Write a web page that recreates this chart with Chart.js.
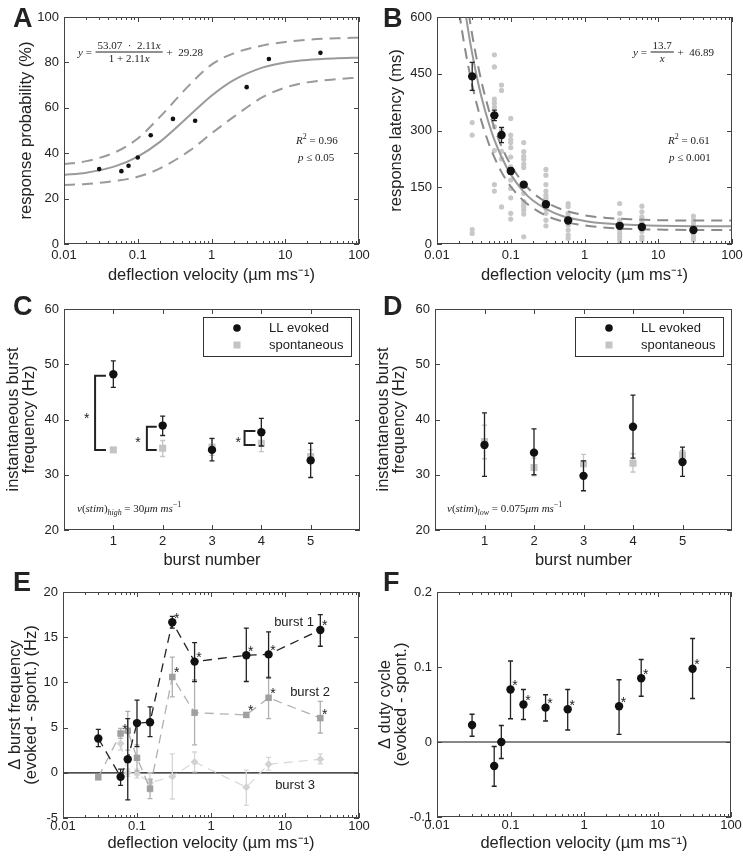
<!DOCTYPE html>
<html>
<head>
<meta charset="utf-8">
<script src="https://cdn.jsdelivr.net/npm/chart.js@4.4.1/dist/chart.umd.min.js"></script>
<style>
  html, body { margin: 0; padding: 0; background: #fff; }
  #wrap { position: relative; width: 743px; height: 858px; overflow: hidden; }
  canvas { position: absolute; }
</style>
</head>
<body>
<div id="wrap">
  <canvas id="cA" width="370" height="285" style="left:0;top:0"></canvas>
  <canvas id="cB" width="373" height="285" style="left:370px;top:0"></canvas>
  <canvas id="cC" width="370" height="285" style="left:0;top:285px"></canvas>
  <canvas id="cD" width="373" height="285" style="left:370px;top:285px"></canvas>
  <canvas id="cE" width="370" height="293" style="left:0;top:565px"></canvas>
  <canvas id="cF" width="373" height="293" style="left:370px;top:565px"></canvas>
</div>
<script>
const FONT = '"Liberation Sans", Arial, sans-serif';
const SERIF = '"Liberation Serif", "DejaVu Serif", serif';
const INK = '#222';

// ---------- A: response probability ----------
const velA = [0.03, 0.06, 0.075, 0.1, 0.15, 0.3, 0.6, 3, 6, 30];
const probA = [33.0, 32.1, 34.5, 38.1, 47.9, 55.1, 54.3, 69.1, 81.5, 84.2];
const fitVelA = [0.01, 0.02, 0.05, 0.1, 0.2, 0.5, 1, 2, 5, 10, 20, 50, 100];
const fitProbA = [30.4, 31.4, 34.3, 38.5, 45.0, 56.5, 65.3, 72.2, 77.8, 80.0, 81.1, 81.8, 82.1];
const upProbA = [35.2, 36.5, 40.5, 46.5, 56, 70, 79, 84, 87.5, 89, 90, 90.6, 90.9];
const loProbA = [26.0, 26.4, 27.8, 29.6, 33.3, 41, 48.7, 56, 64.8, 68.9, 71.2, 72.6, 73.3];

// ---------- B: response latency ----------
const velB = [0.03, 0.06, 0.075, 0.1, 0.15, 0.3, 0.6, 3, 6, 30];
const latB = [443, 340, 288, 193, 157, 105, 62, 48, 45, 37];
const latErrB = [37, 14, 20, 8, 7, 6, 5, 4, 4, 4];
const rawLatB = [
  [321, 288, 38, 28],
  [600, 500, 468, 383, 373, 362, 310, 247, 157, 140],
  [420, 406, 301, 286, 245, 225, 98],
  [332, 288, 276, 268, 255, 230, 204, 169, 147, 122, 81, 66],
  [268, 244, 232, 224, 211, 202, 134, 112, 103, 98, 90, 79, 19],
  [197, 182, 157, 140, 129, 121, 112, 94, 81, 63, 48],
  [107, 99, 81, 72, 50, 37, 24, 15],
  [107, 81, 63, 55, 46, 37, 28, 19, 11, 2],
  [100, 85, 72, 63, 55, 46, 33, 19, 11],
  [74, 63, 55, 46, 37, 28, 19, 11]
];
const fitVelB = [0.02, 0.0225, 0.025, 0.0275, 0.03, 0.035, 0.04, 0.05, 0.06, 0.075, 0.1, 0.15, 0.2, 0.3, 0.5, 1, 2, 5, 10, 30, 100];
const fitLatB = [732, 656, 595, 545, 504, 438, 389, 321, 275, 230, 184, 138, 115, 93, 74, 61, 54, 50, 48, 47, 47];
const upLatB = [799, 717, 652, 598, 553, 483, 430, 357, 307, 258, 209, 160, 135, 111, 91, 76, 69, 65, 63, 62, 62];
const loLatB = [612, 548, 497, 455, 420, 366, 325, 267, 229, 190, 152, 114, 95, 75, 60, 49, 43, 39, 38, 37, 37];

// ---------- C / D: burst frequency ----------
const burstNo = [1, 2, 3, 4, 5];
const evokedC = [48.2, 38.9, 34.5, 37.7, 32.6];
const evokedHiC = [50.6, 40.6, 36.6, 40.2, 35.7];
const evokedLoC = [45.8, 37.1, 32.5, 35.2, 29.5];
const spontC = [34.5, 34.8, 35.0, 35.7, 33.3];
const spontHiC = [34.8, 36.2, 36.5, 37.2, 34.5];
const spontLoC = [34.2, 33.3, 33.5, 34.2, 32.1];
const evokedD = [35.4, 34.0, 29.8, 38.7, 32.3];
const evokedHiD = [41.2, 38.3, 32.5, 44.4, 35.0];
const evokedLoD = [29.7, 30.0, 27.1, 33.0, 29.7];
const spontD = [36.0, 31.3, 32.0, 32.1, 33.6];
const spontHiD = [39.0, 33.0, 33.7, 33.8, 34.4];
const spontLoD = [32.9, 29.8, 30.4, 30.5, 32.7];
// significance brackets in C: [x of spine, x of arms, top y, bottom y]
const bracketsC = [[0.63, 0.85, 47.9, 34.5], [1.68, 1.88, 38.7, 34.5], [3.66, 3.88, 37.9, 35.4]];
const starsC = [[0.46, 40.9], [1.50, 36.5], [3.53, 36.5]];

// ---------- E: delta burst frequency ----------
const velE = [0.03, 0.06, 0.075, 0.1, 0.15, 0.3, 0.6, 3, 6, 30];
const burst1E = [3.8, -0.45, 1.5, 5.5, 5.6, 16.66, 12.3, 13.0, 13.1, 15.8];
const burst1HiE = [4.8, 0.4, 6.0, 8.05, 7.3, 17.3, 14.4, 16.0, 15.6, 17.5];
const burst1LoE = [2.9, -1.4, -3.0, 2.9, 4.0, 16.0, 10.1, 10.1, 10.5, 14.0];
const burst1StarsE = [5, 6, 7, 8, 9];
const burst2E = [-0.5, 4.35, 4.65, 1.65, -1.75, 10.6, 6.65, 6.4, 8.3, 6.05];
const burst2HiE = [-0.3, 4.9, 6.8, 3.1, -0.7, 12.8, 10.3, 6.6, 10.6, 7.9];
const burst2LoE = [-0.7, 3.8, 2.5, 0.2, -2.85, 8.4, 3.1, 6.2, 6.0, 4.4];
const burst2StarsE = [1, 5, 7, 8, 9];
const velE3 = [0.06, 0.075, 0.1, 0.15, 0.3, 0.6, 3, 6, 30];
const burst3E = [3.25, 0, -0.1, -1.1, -0.4, 1.2, -1.6, 0.95, 1.5];
const burst3HiE = [4.2, 0.4, 0.4, 0, 2.1, 2.3, 0.3, 1.7, 2.1];
const burst3LoE = [2.5, -0.4, -0.6, -2.1, -2.9, 0.1, -3.6, 0.3, 1.0];

// ---------- F: delta duty cycle ----------
const velF = [0.03, 0.06, 0.075, 0.1, 0.15, 0.3, 0.6, 3, 6, 30];
const dutyF = [0.0227, -0.032, 0.0, 0.070, 0.050, 0.0458, 0.0436, 0.0476, 0.085, 0.0977];
const dutyHiF = [0.037, -0.006, 0.022, 0.108, 0.070, 0.063, 0.070, 0.083, 0.110, 0.138];
const dutyLoF = [0.0077, -0.059, -0.022, 0.031, 0.030, 0.028, 0.016, 0.0103, 0.061, 0.058];
const dutyStarsF = [3, 4, 5, 6, 7, 8, 9];

// ---------- ticks ----------
const velTicks = [0.01, 0.1, 1, 10, 100];
const probTicks = [0, 20, 40, 60, 80, 100];
const latTicks = [0, 150, 300, 450, 600];
const freqTicks = [20, 30, 40, 50, 60];
const deltaTicks = [-5, 0, 5, 10, 15, 20];
const dutyTicks = [-0.1, 0, 0.1, 0.2];

const velTitle = 'deflection velocity (µm ms\u207B\u00B9)';

// ---------- helpers ----------
const pts = (xs, ys) => xs.map((x, i) => ({ x, y: ys[i] }));

function rich(ctx, x, y, parts, size, measureOnly) {
  let cx = x;
  ctx.textBaseline = 'alphabetic';
  ctx.textAlign = 'left';
  for (const [t, st] of parts) {
    const small = st === 'sub' || st === 'sup' || st === 'isub';
    const it = st === 'i' || st === 'isub';
    ctx.font = `${it ? 'italic ' : ''}${small ? size * 0.72 : size}px ${SERIF}`;
    const dy = (st === 'sub' || st === 'isub') ? size * 0.25 : st === 'sup' ? -size * 0.42 : 0;
    if (!measureOnly) ctx.fillText(t, cx, y + dy);
    cx += ctx.measureText(t).width;
  }
  return cx;
}

function frac(ctx, x, yLine, num, den, size) {
  const wn = rich(ctx, 0, 0, num, size, true), wd = rich(ctx, 0, 0, den, size, true);
  const w = Math.max(wn, wd) + 4;
  rich(ctx, x + (w - wn) / 2, yLine - 3, num, size);
  rich(ctx, x + (w - wd) / 2, yLine + size * 0.85 + 1, den, size);
  ctx.fillRect(x, yLine - 0.5, w, 1);
  return x + w;
}

function star(ctx, px, py) {
  ctx.font = `14px ${FONT}`;
  ctx.textAlign = 'center';
  ctx.textBaseline = 'alphabetic';
  ctx.fillStyle = INK;
  ctx.fillText('*', px, py + 8);
}

function drawErr(chart, index) {
  const ds = chart.data.datasets[index];
  if (!ds.errHi) return;
  const { ctx, scales: { x, y } } = chart;
  ctx.save();
  ctx.strokeStyle = ds.errColor || INK;
  ctx.lineWidth = 1.3;
  ds.data.forEach((p, i) => {
    const px = x.getPixelForValue(p.x);
    const y1 = y.getPixelForValue(ds.errHi[i]), y2 = y.getPixelForValue(ds.errLo[i]);
    ctx.beginPath();
    ctx.moveTo(px, y1); ctx.lineTo(px, y2);
    ctx.moveTo(px - 2.5, y1); ctx.lineTo(px + 2.5, y1);
    ctx.moveTo(px - 2.5, y2); ctx.lineTo(px + 2.5, y2);
    ctx.stroke();
  });
  ctx.restore();
}

function minorLog(min, max) {
  const out = [];
  for (let d = Math.log10(min); d < Math.log10(max); d++)
    for (let k = 2; k <= 9; k++) out.push(k * Math.pow(10, d));
  return out;
}

const framePlugin = {
  id: 'frame',
  beforeDatasetDraw(chart, args) { drawErr(chart, args.index); },
  afterDatasetsDraw(chart, args, opts) {
    const { ctx, chartArea: a, scales: { x, y } } = chart;
    ctx.save();
    ctx.strokeStyle = '#444';
    ctx.lineWidth = 1;
    ctx.strokeRect(a.left + 0.5, a.top + 0.5, a.width - 1, a.height - 1);
    ctx.beginPath();
    const xt = (v, len) => {
      const px = Math.round(x.getPixelForValue(v)) + 0.5;
      ctx.moveTo(px, a.bottom); ctx.lineTo(px, a.bottom - len);
      ctx.moveTo(px, a.top); ctx.lineTo(px, a.top + len);
    };
    const yt = (v, len) => {
      const py = Math.round(y.getPixelForValue(v)) + 0.5;
      ctx.moveTo(a.left, py); ctx.lineTo(a.left + len, py);
      ctx.moveTo(a.right, py); ctx.lineTo(a.right - len, py);
    };
    x.ticks.forEach(t => xt(t.value, 5));
    y.ticks.forEach(t => yt(t.value, 5));
    if (x.type === 'logarithmic') minorLog(x.min, x.max).forEach(v => xt(v, 3));
    ctx.stroke();

    // stars attached to datasets
    chart.data.datasets.forEach(ds => {
      (ds.stars || []).forEach(i => {
        star(ctx, x.getPixelForValue(ds.data[i].x) + 4.5, y.getPixelForValue(ds.data[i].y) - 7.5);
      });
    });

    ctx.fillStyle = INK;
    ctx.font = `bold 27px ${FONT}`;
    ctx.textAlign = 'left';
    ctx.textBaseline = 'alphabetic';
    ctx.fillText(opts.letter, 13, opts.letterY);
    if (opts.notes) { ctx.fillStyle = INK; opts.notes(ctx, chart); }
    ctx.restore();
  }
};

function makeChart(id, cfg, datasets) {
  const tickFont = { family: FONT, size: 13 };
  const titleFont = { family: FONT, size: 16.5, lineHeight: cfg.yLH || 1.2 };
  return new Chart(document.getElementById(id), {
    type: 'scatter',
    data: { datasets },
    options: {
      responsive: false,
      animation: false,
      devicePixelRatio: 1,
      layout: { padding: { top: cfg.top, right: cfg.right, left: 0, bottom: 0 } },
      plugins: {
        legend: { display: false },
        tooltip: { enabled: false },
        frame: { letter: cfg.letter, letterY: cfg.letterY, notes: cfg.notes }
      },
      scales: {
        x: {
          type: cfg.xLog ? 'logarithmic' : 'linear',
          min: cfg.xMin, max: cfg.xMax,
          grid: { display: false, drawTicks: false },
          border: { display: false },
          ticks: { font: tickFont, color: INK, padding: cfg.xTickPad, maxRotation: 0, autoSkip: false,
                   callback: v => String(v) },
          afterBuildTicks: s => { s.ticks = cfg.xTicks.map(v => ({ value: v })); },
          afterFit: s => { s.height = cfg.xH; s.paddingLeft = 0; s.paddingRight = 0; },
          title: { display: true, text: cfg.xTitle, color: INK, font: { family: FONT, size: 16.5 },
                   padding: { top: 0, bottom: cfg.xTitlePad || 0 } }
        },
        y: {
          min: cfg.yMin, max: cfg.yMax,
          grid: { display: false, drawTicks: false },
          border: { display: false },
          ticks: { font: tickFont, color: INK, padding: 5, autoSkip: false, callback: v => String(v) },
          afterBuildTicks: s => { s.ticks = cfg.yTicks.map(v => ({ value: v })); },
          afterFit: s => { s.width = cfg.yW; s.paddingTop = 0; s.paddingBottom = 0; },
          title: { display: true, text: cfg.yTitle, color: INK, font: titleFont,
                   padding: { top: cfg.yTitlePad, bottom: 0 } }
        }
      }
    },
    plugins: [framePlugin]
  });
}

const lineDs = (data, color, dash, width) => ({
  data, showLine: true, borderColor: color, borderWidth: width || 2, borderDash: dash || [],
  pointRadius: 0, cubicInterpolationMode: 'monotone', fill: false
});
const markDs = (data, color, style, r, extra) => Object.assign({
  data, pointStyle: style, pointRadius: r, pointBackgroundColor: color, pointBorderWidth: 0,
  borderColor: color, showLine: false
}, extra || {});

function legendCD(ctx, a) {
  const w = 148, h = 39, l = a.right - 9 - w, t = a.top + 8;
  ctx.fillStyle = '#fff'; ctx.fillRect(l, t, w, h);
  ctx.strokeStyle = '#333'; ctx.lineWidth = 1; ctx.strokeRect(l + 0.5, t + 0.5, w, h);
  ctx.fillStyle = '#111'; ctx.beginPath(); ctx.arc(l + 34, t + 11, 3.8, 0, 2 * Math.PI); ctx.fill();
  ctx.fillStyle = '#c4c4c4'; ctx.fillRect(l + 30.5, t + 24.5, 7, 7);
  ctx.fillStyle = INK; ctx.font = `13px ${FONT}`; ctx.textBaseline = 'middle'; ctx.textAlign = 'left';
  ctx.fillText('LL evoked', l + 66, t + 11);
  ctx.fillText('spontaneous', l + 66, t + 28);
}

// ---------- A ----------
makeChart('cA', {
  letter: 'A', letterY: 26.5, top: 17, right: 11, yW: 64, xH: 41, yTitlePad: 17, xTickPad: 3.5,
  xLog: true, xMin: 0.01, xMax: 100, xTicks: velTicks, yMin: 0, yMax: 100, yTicks: probTicks,
  xTitle: velTitle, yTitle: 'response probability (%)',
  notes: (ctx) => {
    let cx = rich(ctx, 78, 56, [['y', 'i'], [' = ', '']], 11);
    cx = frac(ctx, cx + 1, 52, [['53.07  ·  2.11', ''], ['x', 'i']], [['1 + 2.11', ''], ['x', 'i']], 11);
    rich(ctx, cx + 1, 56, [[' +  29.28', '']], 11);
    rich(ctx, 296, 144, [['R', 'i'], ['2', 'sup'], [' = 0.96', '']], 11);
    rich(ctx, 298, 161, [['p', 'i'], [' \u2264 0.05', '']], 11);
  }
}, [
  markDs(pts(velA, probA), '#111', 'circle', 2.3),
  lineDs(pts(fitVelA, fitProbA), '#9a9a9a', [], 2),
  lineDs(pts(fitVelA, upProbA), '#9a9a9a', [11, 7], 2),
  lineDs(pts(fitVelA, loProbA), '#9a9a9a', [11, 7], 2)
]);

// ---------- B ----------
const rawPtsB = [];
rawLatB.forEach((col, i) => col.forEach(v => rawPtsB.push({ x: velB[i], y: v })));
makeChart('cB', {
  letter: 'B', letterY: 26.5, top: 17, right: 11, yW: 67, xH: 41, yTitlePad: 17, xTickPad: 3.5,
  xLog: true, xMin: 0.01, xMax: 100, xTicks: velTicks, yMin: 0, yMax: 600, yTicks: latTicks,
  xTitle: velTitle, yTitle: 'response latency (ms)',
  notes: (ctx) => {
    let cx = rich(ctx, 263, 56, [['y', 'i'], [' = ', '']], 11);
    cx = frac(ctx, cx + 1, 52, [['13.7', '']], [['x', 'i']], 11);
    rich(ctx, cx + 1, 56, [[' +  46.89', '']], 11);
    rich(ctx, 298, 144, [['R', 'i'], ['2', 'sup'], [' = 0.61', '']], 11);
    rich(ctx, 299, 161, [['p', 'i'], [' \u2264 0.001', '']], 11);
  }
}, [
  markDs(pts(velB, latB), '#111', 'circle', 4.2,
    { errHi: latB.map((v, i) => v + latErrB[i]), errLo: latB.map((v, i) => v - latErrB[i]) }),
  lineDs(pts(fitVelB, fitLatB), '#999', [], 2),
  lineDs(pts(fitVelB, upLatB), '#8a8a8a', [11, 7], 2),
  lineDs(pts(fitVelB, loLatB), '#8a8a8a', [11, 7], 2),
  markDs(rawPtsB, '#c8c8c8', 'circle', 2.6)
]);

// ---------- C ----------
makeChart('cC', {
  letter: 'C', letterY: 30, top: 24, right: 10, yW: 64, xH: 40, yTitlePad: 6, yLH: 0.95, xTickPad: 4,
  xMin: 0, xMax: 6, xTicks: burstNo, yMin: 20, yMax: 60, yTicks: freqTicks,
  xTitle: 'burst number', yTitle: ['instantaneous burst', 'frequency (Hz)'],
  notes: (ctx, chart) => {
    const { x, y } = chart.scales;
    ctx.strokeStyle = INK; ctx.lineWidth = 2;
    bracketsC.forEach(([xs, xa, yt, yb]) => {
      ctx.beginPath();
      ctx.moveTo(x.getPixelForValue(xa), y.getPixelForValue(yt));
      ctx.lineTo(x.getPixelForValue(xs), y.getPixelForValue(yt));
      ctx.lineTo(x.getPixelForValue(xs), y.getPixelForValue(yb));
      ctx.lineTo(x.getPixelForValue(xa), y.getPixelForValue(yb));
      ctx.stroke();
    });
    starsC.forEach(([sx, sy]) => star(ctx, x.getPixelForValue(sx), y.getPixelForValue(sy)));
    legendCD(ctx, chart.chartArea);
    ctx.fillStyle = INK;
    rich(ctx, 77, 227, [['v', 'i'], ['(', ''], ['stim', 'i'], [')', ''], ['high', 'isub'], [' = 30', ''], ['\u03BCm ms', 'i'], ['\u22121', 'sup']], 11);
  }
}, [
  markDs(pts(burstNo, evokedC), '#111', 'circle', 4.2, { errHi: evokedHiC, errLo: evokedLoC }),
  markDs(pts(burstNo, spontC), '#c4c4c4', 'rect', 5, { errHi: spontHiC, errLo: spontLoC, errColor: '#c4c4c4' })
]);

// ---------- D ----------
makeChart('cD', {
  letter: 'D', letterY: 30, top: 24, right: 11, yW: 65, xH: 40, yTitlePad: 6, yLH: 0.95, xTickPad: 4,
  xMin: 0, xMax: 6, xTicks: burstNo, yMin: 20, yMax: 60, yTicks: freqTicks,
  xTitle: 'burst number', yTitle: ['instantaneous burst', 'frequency (Hz)'],
  notes: (ctx, chart) => {
    legendCD(ctx, chart.chartArea);
    ctx.fillStyle = INK;
    rich(ctx, 77, 227, [['v', 'i'], ['(', ''], ['stim', 'i'], [')', ''], ['low', 'isub'], [' = 0.075', ''], ['\u03BCm ms', 'i'], ['\u22121', 'sup']], 11);
  }
}, [
  markDs(pts(burstNo, evokedD), '#111', 'circle', 4.2, { errHi: evokedHiD, errLo: evokedLoD }),
  markDs(pts(burstNo, spontD), '#c4c4c4', 'rect', 5, { errHi: spontHiD, errLo: spontLoD, errColor: '#c4c4c4' })
]);

// ---------- E ----------
makeChart('cE', {
  letter: 'E', letterY: 26, top: 27, right: 11, yW: 63, xH: 40, yTitlePad: 7, yLH: 0.98, xTitlePad: 5, xTickPad: 1,
  xLog: true, xMin: 0.01, xMax: 100, xTicks: velTicks, yMin: -5, yMax: 20, yTicks: deltaTicks,
  xTitle: velTitle, yTitle: ['\u0394 burst frequency', '(evoked - spont.) (Hz)'],
  notes: (ctx) => {
    ctx.fillStyle = INK; ctx.font = `13px ${FONT}`; ctx.textAlign = 'center'; ctx.textBaseline = 'middle';
    ctx.fillText('burst 1', 294, 57);
    ctx.fillText('burst 2', 310, 127);
    ctx.fillText('burst 3', 295, 220);
  }
}, [
  Object.assign(lineDs(pts(velE, burst1E), '#222', [9, 6], 1.3), {
    pointRadius: 4.2, pointBackgroundColor: '#111', pointBorderWidth: 0, cubicInterpolationMode: 'default',
    errHi: burst1HiE, errLo: burst1LoE, stars: burst1StarsE }),
  Object.assign(lineDs(pts(velE, burst2E), '#b0b0b0', [9, 6], 1.3), {
    pointRadius: 4.6, pointStyle: 'rect', pointBackgroundColor: '#a0a0a0', pointBorderWidth: 0,
    cubicInterpolationMode: 'default', errHi: burst2HiE, errLo: burst2LoE, errColor: '#b0b0b0', stars: burst2StarsE }),
  Object.assign(lineDs(pts(velE3, burst3E), '#dadada', [9, 6], 1.3), {
    pointRadius: 4, pointStyle: 'rectRot', pointBackgroundColor: '#d2d2d2', pointBorderWidth: 0,
    cubicInterpolationMode: 'default', errHi: burst3HiE, errLo: burst3LoE, errColor: '#d6d6d6' }),
  lineDs(pts([0.01, 100], [0, 0]), '#111', [], 1.2)
]);

// ---------- F ----------
makeChart('cF', {
  letter: 'F', letterY: 26, top: 27, right: 12, yW: 67, xH: 41, yTitlePad: 7, yLH: 0.98, xTitlePad: 5, xTickPad: 1,
  xLog: true, xMin: 0.01, xMax: 100, xTicks: velTicks, yMin: -0.1, yMax: 0.2, yTicks: dutyTicks,
  xTitle: velTitle, yTitle: ['\u0394 duty cycle', '(evoked - spont.)']
}, [
  markDs(pts(velF, dutyF), '#111', 'circle', 4.2, { errHi: dutyHiF, errLo: dutyLoF, stars: dutyStarsF }),
  lineDs(pts([0.01, 100], [0, 0]), '#111', [], 1.2)
]);
</script>
</body>
</html>
